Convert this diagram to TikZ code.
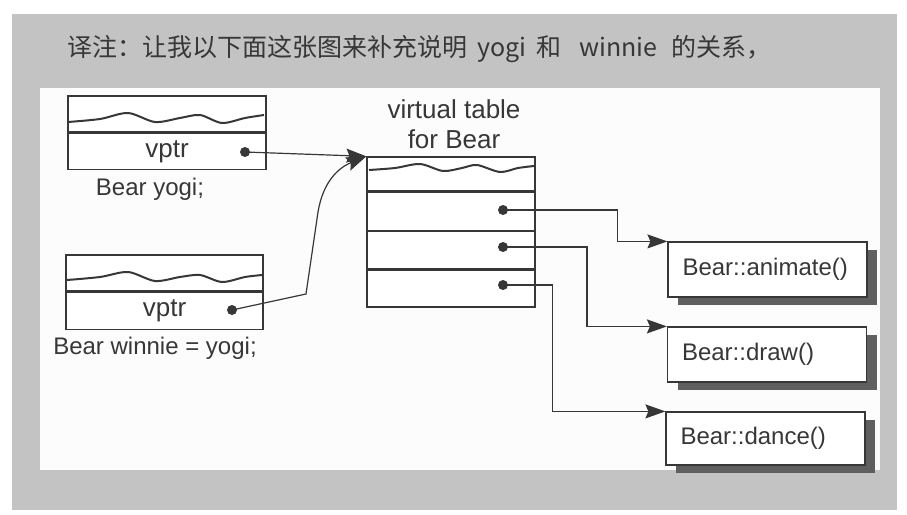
\documentclass[tikz,border=0pt]{standalone}
\usepackage{fontspec}
\setmainfont{Liberation Sans}
\newfontfamily\cjk{Noto Sans CJK SC}
\usetikzlibrary{arrows.meta,shadows,calc}
\definecolor{framec}{RGB}{195,195,195}
\definecolor{panelc}{RGB}{252,252,252}
\definecolor{ink}{RGB}{55,55,55}
\definecolor{shade}{RGB}{95,95,95}
\begin{document}
\begin{tikzpicture}[x=1pt,y=-1pt,
  cell/.style={draw=ink, line width=1.3pt, inner sep=0pt, fill=white, text=ink, font=\fontsize{26}{30}\selectfont},
  lbl/.style={text=ink, font=\fontsize{24}{28}\selectfont, inner sep=0pt},
  dotc/.style={circle, fill=ink, inner sep=0pt, minimum size=10pt},
  wave/.style={ink, line width=2pt},
  arr/.style={ink, line width=1.2pt, -{Stealth[length=20pt,width=14pt,inset=3pt]}},
  fbox/.style={draw=ink, line width=1.2pt, fill=white, minimum width=199pt, inner ysep=0pt,
    inner xsep=14.5pt, text width=170pt, align=left, text=ink, font=\fontsize{24}{28}\selectfont,
    drop shadow={shadow xshift=10pt, shadow yshift=-8pt, fill=shade, opacity=1}},
]
\useasboundingbox (0,0) rectangle (907,514);
\fill[white] (0,0) rectangle (907,514);
\fill[framec] (12,14) rectangle (897,510);
\fill[panelc] (40,88) rectangle (880,470);

% header
\node[anchor=west, text=ink, font=\cjk\fontsize{25}{29}\selectfont, inner sep=0pt] (hdr) at (67,49)
  {译注：让我以下面这张图来补充说明\hspace{10pt}yogi\hspace{10pt}和\hspace{18pt}winnie\hspace{14pt}的关系，};

% yogi
\node[cell, minimum width=198pt, minimum height=36pt] (ytop) at (167,114) {};
\node[cell, minimum width=198pt, minimum height=36pt, anchor=north] (yptr) at (ytop.south) {vptr};
\draw[wave] plot[smooth] coordinates {(68,122) (100,119) (128,113) (155,122) (180,118) (200,115) (222,123) (245,118) (264,115)};
\node[dotc] (yd) at (245,152) {};
\node[lbl] (ylab) at (150,189) {Bear yogi;};

% winnie
\node[cell, minimum width=197pt, minimum height=36pt] (wtop) at (164.5,273) {};
\node[cell, minimum width=197pt, minimum height=37pt, anchor=north] (wptr) at (wtop.south) {vptr};
\draw[wave] plot[smooth] coordinates {(67,280) (100,277) (128,272) (155,281) (180,277) (200,275) (222,282) (245,277) (262,275)};
\node[dotc] (wd) at (232,310) {};
\node[lbl] (wlab) at (155,348) {Bear winnie = yogi;};

% virtual table
\node[lbl, align=center, font=\fontsize{26}{30}\selectfont] (vtitle) at (454,124) {virtual table\\for Bear};
\node[cell, minimum width=168pt, minimum height=34pt] (t0) at (451,174) {};
\node[cell, minimum width=168pt, minimum height=38pt, anchor=north] (t1) at (t0.south) {};
\node[cell, minimum width=168pt, minimum height=37pt, anchor=north] (t2) at (t1.south) {};
\node[cell, minimum width=168pt, minimum height=37pt, anchor=north] (t3) at (t2.south) {};
\draw[wave] plot[smooth] coordinates {(369,170) (395,168) (420,164) (443,171) (462,168) (477,165) (500,172) (518,168) (534,166)};
\node[dotc] (d1) at (503,210) {};
\node[dotc] (d2) at (503,247) {};
\node[dotc] (d3) at (503,285) {};

% function boxes
\node[fbox, minimum height=55pt] (f1) at (767.5,269.5) {Bear::animate()};
\node[fbox, minimum height=55pt] (f2) at (767,354.5) {Bear::draw()};
\node[fbox, minimum height=53pt] (f3) at (765.5,438.5) {Bear::dance()};

% connectors
\coordinate (w1) at (306,294);
\coordinate (w2) at (318,212);
\draw[arr] (yd.center) -- (t0.north west);
\draw[arr] (wd.center) -- (w1) -- (w2) .. controls (323,182) and (338,168) .. (t0.north west);
\draw[arr] (d1.center) -| ([xshift=-50pt]f1.north west) -- (f1.north west);
\draw[arr] (d2.center) -| ([xshift=-80pt]f2.north west) -- (f2.north west);
\draw[arr] (d3.center) -| ([xshift=-113pt]f3.north west) -- (f3.north west);
\end{tikzpicture}
\end{document}
